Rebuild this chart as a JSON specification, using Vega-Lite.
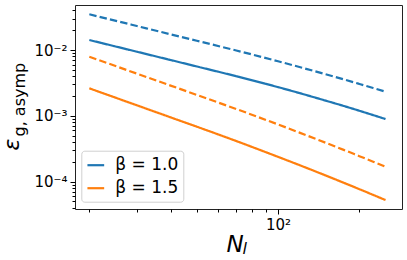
{
  "$schema": "https://vega.github.io/schema/vega-lite/v6.json",
  "width": 327,
  "height": 204,
  "autosize": "none",
  "padding": {"left": 75, "top": 5, "right": 5, "bottom": 51},
  "config": {
    "view": {"stroke": "#222", "strokeWidth": 1},
    "axis": {
      "domain": false, "grid": false, "tickColor": "#000", "tickWidth": 1,
      "labelFont": "DejaVu Sans", "labelFontSize": 15, "labelColor": "#000", "labelPadding": 3,
      "titleFont": "DejaVu Sans", "titleColor": "#000", "titleFontWeight": "normal"
    },
    "legend": {
      "orient": "none", "legendX": 6.3, "legendY": 145.7,
      "labelFont": "DejaVu Sans", "labelFontSize": 17, "labelColor": "#000",
      "symbolType": "stroke", "symbolStrokeWidth": 2.2, "symbolSize": 280,
      "labelOffset": 10, "padding": 5, "rowPadding": 5, "cornerRadius": 3,
      "strokeColor": "#d0d0d0", "fillColor": "rgba(255,255,255,0.8)"
    }
  },
  "data": {
    "values": [
      {"N": 20, "eps": 0.01419, "beta": "β = 1.0", "kind": "solid"},
      {"N": 30, "eps": 0.009421, "beta": "β = 1.0", "kind": "solid"},
      {"N": 40, "eps": 0.007047, "beta": "β = 1.0", "kind": "solid"},
      {"N": 50, "eps": 0.005625, "beta": "β = 1.0", "kind": "solid"},
      {"N": 70, "eps": 0.0040, "beta": "β = 1.0", "kind": "solid"},
      {"N": 100, "eps": 0.002729, "beta": "β = 1.0", "kind": "solid"},
      {"N": 120, "eps": 0.002218, "beta": "β = 1.0", "kind": "solid"},
      {"N": 150, "eps": 0.001702, "beta": "β = 1.0", "kind": "solid"},
      {"N": 175, "eps": 0.001413, "beta": "β = 1.0", "kind": "solid"},
      {"N": 200, "eps": 0.001194, "beta": "β = 1.0", "kind": "solid"},
      {"N": 225, "eps": 0.001026, "beta": "β = 1.0", "kind": "solid"},
      {"N": 250, "eps": 0.000893, "beta": "β = 1.0", "kind": "solid"},
      {"N": 20, "eps": 0.03488, "beta": "β = 1.0", "kind": "dashed"},
      {"N": 30, "eps": 0.02316, "beta": "β = 1.0", "kind": "dashed"},
      {"N": 40, "eps": 0.01732, "beta": "β = 1.0", "kind": "dashed"},
      {"N": 50, "eps": 0.01382, "beta": "β = 1.0", "kind": "dashed"},
      {"N": 70, "eps": 0.009842, "beta": "β = 1.0", "kind": "dashed"},
      {"N": 100, "eps": 0.006745, "beta": "β = 1.0", "kind": "dashed"},
      {"N": 120, "eps": 0.005516, "beta": "β = 1.0", "kind": "dashed"},
      {"N": 150, "eps": 0.00428, "beta": "β = 1.0", "kind": "dashed"},
      {"N": 175, "eps": 0.003578, "beta": "β = 1.0", "kind": "dashed"},
      {"N": 200, "eps": 0.00305, "beta": "β = 1.0", "kind": "dashed"},
      {"N": 225, "eps": 0.002645, "beta": "β = 1.0", "kind": "dashed"},
      {"N": 250, "eps": 0.002323, "beta": "β = 1.0", "kind": "dashed"},
      {"N": 20, "eps": 0.002618, "beta": "β = 1.5", "kind": "solid"},
      {"N": 30, "eps": 0.001445, "beta": "β = 1.5", "kind": "solid"},
      {"N": 40, "eps": 0.000948, "beta": "β = 1.5", "kind": "solid"},
      {"N": 50, "eps": 0.000684, "beta": "β = 1.5", "kind": "solid"},
      {"N": 70, "eps": 0.000414, "beta": "β = 1.5", "kind": "solid"},
      {"N": 100, "eps": 0.000238, "beta": "β = 1.5", "kind": "solid"},
      {"N": 120, "eps": 0.0001783, "beta": "β = 1.5", "kind": "solid"},
      {"N": 150, "eps": 0.0001242, "beta": "β = 1.5", "kind": "solid"},
      {"N": 175, "eps": 0.0000962, "beta": "β = 1.5", "kind": "solid"},
      {"N": 200, "eps": 0.0000769, "beta": "β = 1.5", "kind": "solid"},
      {"N": 225, "eps": 0.0000629, "beta": "β = 1.5", "kind": "solid"},
      {"N": 250, "eps": 0.0000525, "beta": "β = 1.5", "kind": "solid"},
      {"N": 20, "eps": 0.007907, "beta": "β = 1.5", "kind": "dashed"},
      {"N": 30, "eps": 0.004378, "beta": "β = 1.5", "kind": "dashed"},
      {"N": 40, "eps": 0.00288, "beta": "β = 1.5", "kind": "dashed"},
      {"N": 50, "eps": 0.002081, "beta": "β = 1.5", "kind": "dashed"},
      {"N": 70, "eps": 0.00127, "beta": "β = 1.5", "kind": "dashed"},
      {"N": 100, "eps": 0.000739, "beta": "β = 1.5", "kind": "dashed"},
      {"N": 120, "eps": 0.000556, "beta": "β = 1.5", "kind": "dashed"},
      {"N": 150, "eps": 0.00039, "beta": "β = 1.5", "kind": "dashed"},
      {"N": 175, "eps": 0.000304, "beta": "β = 1.5", "kind": "dashed"},
      {"N": 200, "eps": 0.000244, "beta": "β = 1.5", "kind": "dashed"},
      {"N": 225, "eps": 0.000201, "beta": "β = 1.5", "kind": "dashed"},
      {"N": 250, "eps": 0.000168, "beta": "β = 1.5", "kind": "dashed"}
    ]
  },
  "resolve": {"axis": {"x": "independent", "y": "independent"}},
  "layer": [
    {
      "mark": {"type": "line", "strokeWidth": 2.2, "clip": true, "interpolate": "monotone"},
      "encoding": {
        "x": {
          "field": "N", "type": "quantitative",
          "scale": {"type": "log", "domain": [17.7, 287.7], "nice": false},
          "axis": {
            "orient": "bottom", "values": [100], "labelExpr": "'10²'", "tickSize": 5,
            "title": "N", "titleFontSize": 23, "titleFontStyle": "italic",
            "titleX": 151, "titleY": 42, "titleAlign": "left", "titleBaseline": "alphabetic", "titleAngle": 0
          }
        },
        "y": {
          "field": "eps", "type": "quantitative",
          "scale": {"type": "log", "domain": [0.0000384, 0.0483], "nice": false},
          "axis": {
            "orient": "left", "values": [0.0001, 0.001, 0.01], "tickSize": 5,
            "labelExpr": "datum.value < 0.0005 ? '10⁻⁴' : datum.value < 0.005 ? '10⁻³' : '10⁻²'",
            "title": "ε", "titleFontSize": 22, "titleFontStyle": "italic", "titleAngle": -90,
            "titleX": -56.5, "titleY": 145, "titleAlign": "left", "titleBaseline": "alphabetic"
          }
        },
        "color": {
          "field": "beta", "type": "nominal",
          "scale": {"domain": ["β = 1.0", "β = 1.5"], "range": ["#1f77b4", "#ff7f0e"]},
          "legend": {"title": null}
        },
        "strokeDash": {
          "field": "kind", "type": "nominal",
          "scale": {"domain": ["solid", "dashed"], "range": [[1, 0], [7.4, 3.2]]},
          "legend": null
        }
      }
    },
    {
      "mark": {"type": "point", "opacity": 0},
      "encoding": {
        "x": {
          "field": "N", "type": "quantitative",
          "axis": {
            "orient": "bottom", "values": [20, 30, 40, 50, 60, 70, 80, 90, 200], "tickSize": 3, "labels": false,
            "title": "l", "titleFontSize": 16, "titleFontStyle": "italic",
            "titleX": 167, "titleY": 44.5, "titleAlign": "left", "titleBaseline": "alphabetic", "titleAngle": 0
          }
        },
        "y": {
          "field": "eps", "type": "quantitative",
          "axis": {
            "orient": "left",
            "values": [0.00004, 0.00005, 0.00006, 0.00007, 0.00008, 0.00009, 0.0002, 0.0003, 0.0004, 0.0005, 0.0006, 0.0007, 0.0008, 0.0009, 0.002, 0.003, 0.004, 0.005, 0.006, 0.007, 0.008, 0.009, 0.02, 0.03, 0.04],
            "tickSize": 3, "labels": false,
            "title": "g, asymp", "titleFontSize": 16, "titleAngle": -90,
            "titleX": -51, "titleY": 131, "titleAlign": "left", "titleBaseline": "alphabetic"
          }
        }
      }
    }
  ]
}
